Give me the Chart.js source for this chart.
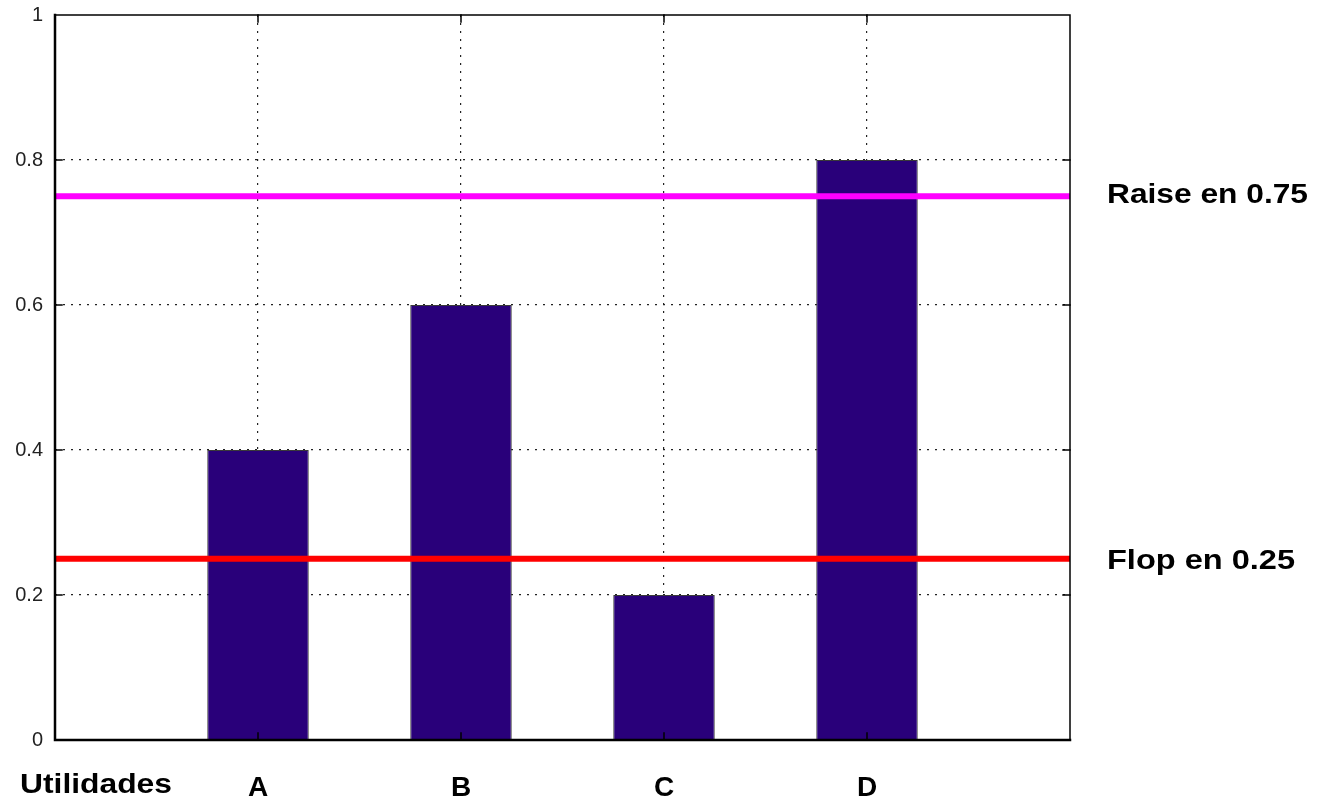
<!DOCTYPE html>
<html>
<head>
<meta charset="utf-8">
<script src="https://cdn.jsdelivr.net/npm/chart.js@4/dist/chart.umd.min.js"></script>
<style>
html,body{margin:0;padding:0;background:#fff;}
canvas{display:block;}
</style>
</head>
<body>
<canvas id="c" width="1317" height="798"></canvas>
<script>
// ---- data ----
const categories = ['A', 'B', 'C', 'D'];
const positions = [1, 2, 3, 4];
const utilities = [0.4, 0.6, 0.2, 0.8];
const xRange = [0, 5];
const yRange = [0, 1];
const yStep = 0.2;
const raiseValue = 0.75;
const flopValue = 0.25;
const raiseLabel = 'Raise en 0.75';
const flopLabel = 'Flop en 0.25';
const axisLabel = 'Utilidades';

const FONT = "'Liberation Sans', Arial, Helvetica, sans-serif";

function stretchedText(ctx, text, x, baseline, font, targetWidth) {
  ctx.save();
  ctx.font = font;
  ctx.textBaseline = 'alphabetic';
  ctx.textAlign = 'left';
  const w = ctx.measureText(text).width;
  const sx = targetWidth ? targetWidth / w : 1;
  ctx.translate(x, baseline);
  ctx.scale(sx, 1);
  ctx.fillStyle = '#000';
  ctx.fillText(text, 0, 0);
  ctx.restore();
}

const framePlugin = {
  id: 'frame',
  afterDatasetsDraw(chart) {
    const ctx = chart.ctx;
    const a = chart.chartArea;
    const xs = chart.scales.x, ys = chart.scales.y;
    ctx.save();
    ctx.strokeStyle = '#000';
    ctx.lineCap = 'square';
    ctx.lineWidth = 1.5;
    ctx.beginPath();
    ctx.moveTo(a.left, a.top); ctx.lineTo(a.right, a.top);
    ctx.moveTo(a.right, a.top); ctx.lineTo(a.right, a.bottom);
    ctx.stroke();
    ctx.lineWidth = 2.5;
    ctx.beginPath();
    ctx.moveTo(a.left, a.top); ctx.lineTo(a.left, a.bottom);
    ctx.lineTo(a.right, a.bottom);
    ctx.stroke();
    ctx.lineWidth = 1.5;
    ctx.beginPath();
    positions.forEach(p => {
      const px = xs.getPixelForValue(p);
      ctx.moveTo(px, a.top); ctx.lineTo(px, a.top + 7);
      ctx.moveTo(px, a.bottom); ctx.lineTo(px, a.bottom - 7);
    });
    ys.ticks.forEach(t => {
      if (t.value <= yRange[0] || t.value >= yRange[1]) return;
      const py = ys.getPixelForValue(t.value);
      ctx.moveTo(a.left, py); ctx.lineTo(a.left + 7, py);
      ctx.moveTo(a.right, py); ctx.lineTo(a.right - 7, py);
    });
    ctx.stroke();
    ctx.restore();
  },
  afterDraw(chart) {
    const ctx = chart.ctx;
    const ys = chart.scales.y;
    stretchedText(ctx, raiseLabel, 1107, ys.getPixelForValue(raiseValue) + 7, "bold 28px " + FONT, 201);
    stretchedText(ctx, flopLabel, 1107, ys.getPixelForValue(flopValue) + 10, "bold 28px " + FONT, 188);
    stretchedText(ctx, axisLabel, 20, 793, "bold 28px " + FONT, 152);
  }
};

const gridColor = (edgeMin, edgeMax) => (c) => {
  const v = c.tick ? c.tick.value : null;
  return (v === null || v <= edgeMin || v >= edgeMax) ? 'rgba(0,0,0,0)' : '#222';
};

new Chart(document.getElementById('c'), {
  type: 'bar',
  data: {
    datasets: [
      {
        type: 'line',
        label: 'raise',
        data: xRange.map(x => ({ x, y: raiseValue })),
        borderColor: '#ff00ff',
        borderWidth: 6,
        pointRadius: 0,
        order: 1
      },
      {
        type: 'line',
        label: 'flop',
        data: xRange.map(x => ({ x, y: flopValue })),
        borderColor: '#ff0000',
        borderWidth: 6,
        pointRadius: 0,
        order: 1
      },
      {
        type: 'bar',
        label: 'utilidades',
        data: positions.map((x, i) => ({ x, y: utilities[i] })),
        backgroundColor: '#29007a',
        borderColor: '#3a3a3a',
        borderWidth: 1,
        barPercentage: 0.5,
        categoryPercentage: 1,
        order: 2
      }
    ]
  },
  options: {
    responsive: false,
    animation: false,
    layout: { padding: { left: 0, right: 247, top: 15, bottom: 0 } },
    plugins: { legend: { display: false }, tooltip: { enabled: false } },
    scales: {
      x: {
        type: 'linear',
        offset: false,
        min: xRange[0],
        max: xRange[1],
        afterFit: s => { s.height = 58; s.paddingLeft = 0; s.paddingRight = 0; },
        ticks: {
          stepSize: 1,
          autoSkip: false,
          maxRotation: 0,
          padding: 31,
          color: '#000',
          font: { family: FONT, size: 28, weight: 'bold' },
          callback: v => { const i = positions.indexOf(v); return i >= 0 ? categories[i] : ''; }
        },
        grid: {
          offset: false,
          drawTicks: false,
          color: gridColor(xRange[0], xRange[1]),
          lineWidth: 1.2
        },
        border: { display: false, dash: [2, 6] }
      },
      y: {
        min: yRange[0],
        max: yRange[1],
        afterFit: s => { s.width = 55; s.paddingTop = 0; s.paddingBottom = 0; },
        ticks: {
          stepSize: yStep,
          padding: 12,
          color: '#222',
          font: { family: FONT, size: 20 },
          callback: v => (v === 0 || v === 1) ? String(v) : Number(v).toFixed(1)
        },
        grid: {
          drawTicks: false,
          color: gridColor(yRange[0], yRange[1]),
          lineWidth: 1.2
        },
        border: { display: false, dash: [2, 6] }
      }
    }
  },
  plugins: [framePlugin]
});
</script>
</body>
</html>
